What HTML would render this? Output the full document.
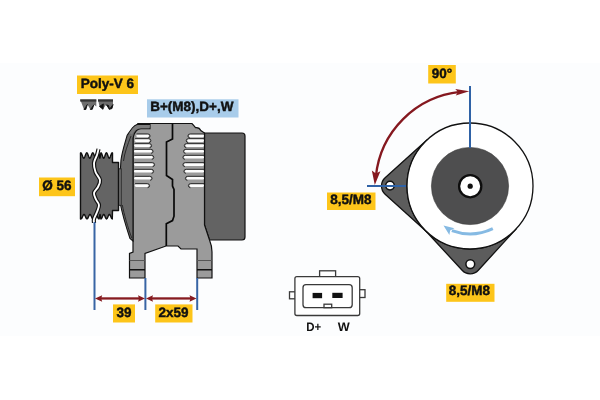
<!DOCTYPE html>
<html><head><meta charset="utf-8"><style>
html,body{margin:0;padding:0;background:#fff;}
body{width:600px;height:400px;overflow:hidden;position:relative;}
svg{position:absolute;left:0;top:0;will-change:transform;}
text{font-family:"Liberation Sans",sans-serif;font-weight:bold;text-rendering:geometricPrecision;}
</style></head><body>
<svg width="600" height="400" viewBox="0 0 600 400">
<rect width="600" height="400" fill="#fff"/>
<rect x="0" y="63" width="600" height="273" fill="#FCFDFE"/>

<!-- labels -->
<rect x="77" y="75.5" width="61" height="18.5" fill="#FDC51A"/>
<text x="80.8" y="87.6" font-size="13.5" fill="#111" stroke="#111" stroke-width="0.45">Poly-V 6</text>
<rect x="147" y="99.3" width="91.5" height="18.2" fill="#A8CCEA"/>
<text x="150.2" y="111.4" font-size="13.5" fill="#111" stroke="#111" stroke-width="0.45">B+(M8),D+,W</text>
<rect x="39" y="177.5" width="36" height="18.7" fill="#FDC51A"/>
<text x="42.3" y="189.5" font-size="13.5" fill="#111" stroke="#111" stroke-width="0.45">Ø 56</text>
<rect x="113" y="304.4" width="22" height="18.1" fill="#FDC51A"/>
<text x="116.6" y="316.9" font-size="13.5" fill="#111" stroke="#111" stroke-width="0.45">39</text>
<rect x="155.2" y="304.4" width="37.3" height="18.1" fill="#FDC51A"/>
<text x="158.5" y="316.9" font-size="13.5" fill="#111" stroke="#111" stroke-width="0.45">2x59</text>
<rect x="428.2" y="65" width="27.6" height="18.5" fill="#FDC51A"/>
<text x="431.8" y="77.5" font-size="13.5" fill="#111" stroke="#111" stroke-width="0.45">90°</text>
<rect x="327" y="192.5" width="48.5" height="17.5" fill="#FDC51A"/>
<text x="330.2" y="204.2" font-size="13.5" fill="#111" stroke="#111" stroke-width="0.45">8,5/M8</text>
<rect x="446.2" y="283.8" width="48.3" height="18" fill="#FDC51A"/>
<text x="448.8" y="295.3" font-size="13.5" fill="#111" stroke="#111" stroke-width="0.45">8,5/M8</text>

<!-- belt icon -->
<g>
<path d="M80.2,99.4 H96.3 V106.5 L93.7,104.2 L90.4,109.5 L87.2,103.9 L84,109.5 Z" fill="#6e6e6e"/>
<path d="M98,99.4 H113 V104.5 L109.4,109.3 L106.2,104.4 L103,109.3 L99.5,106.4 Z" fill="#6e6e6e"/>
<rect x="80.2" y="99.4" width="16.1" height="2.2" fill="#333"/>
<rect x="98" y="99.4" width="15" height="2.2" fill="#333"/>
<path d="M87.4,104.3 L84,109.5 L85.8,109.5 Z M93.9,104.6 L90.4,109.5 L92.3,109.3 Z M103.3,103.9 L103,109.3 L99.5,106.4 Z M106.4,104.8 L109.4,109.3 L108.6,105.5 Z M113,104.5 L109.4,109.3 L112,108.5 Z" fill="#111" stroke="#111" stroke-width="0.9" stroke-linejoin="round"/>
</g>
<!-- rear cover -->
<path d="M204.5,133 H242 Q245,133 245,136 V237 Q245,240 242,240 H209.5 L204.5,225 Z" fill="#636363" stroke="#111" stroke-width="1.2"/>

<!-- body -->
<path d="M138,123.5 H192 L194.5,126.3 L195.5,127.6 Q199.5,127.2 200.8,130.6 L204.5,133 V225 L209.5,240 Q212,246 212,252 V278 H197 V249 H181 L178,246 H166 L145,253.5 V278 H129.5 V253.5 L133,252 V140 Q133,128 138,123.5 Z" fill="#9b9b9b" stroke="#111" stroke-width="1.2"/>
<!-- foot lines -->
<path d="M129.5,260.5 H145 M197,260.5 H212" stroke="#555" stroke-width="1.2"/>
<path d="M129.5,269.7 H145 M197,269.7 H212" stroke="#111" stroke-width="1.5"/>
<rect x="136.30" y="134.50" width="12.70" height="2.7" rx="1.35" fill="#fdfdfd"/><path d="M136.60,133.90 H147.70 Q150.10,133.90 150.10,136.00 Q150.10,137.70 148.10,138.00" fill="none" stroke="#2a2a2a" stroke-width="0.95"/><rect x="189.00" y="134.50" width="15.00" height="2.7" rx="1.35" fill="#fdfdfd"/><path d="M204.00,133.90 H190.30 Q187.90,133.90 187.90,136.00 Q187.90,137.70 189.90,138.00" fill="none" stroke="#2a2a2a" stroke-width="0.95"/><rect x="134.80" y="139.20" width="15.00" height="2.7" rx="1.35" fill="#fdfdfd"/><path d="M135.10,138.60 H148.50 Q150.90,138.60 150.90,140.70 Q150.90,142.40 148.90,142.70" fill="none" stroke="#2a2a2a" stroke-width="0.95"/><rect x="187.30" y="139.20" width="16.70" height="2.7" rx="1.35" fill="#fdfdfd"/><path d="M204.00,138.60 H188.60 Q186.20,138.60 186.20,140.70 Q186.20,142.40 188.20,142.70" fill="none" stroke="#2a2a2a" stroke-width="0.95"/><rect x="134.20" y="144.20" width="16.30" height="2.7" rx="1.35" fill="#fdfdfd"/><path d="M134.50,143.60 H149.20 Q151.60,143.60 151.60,145.70 Q151.60,147.40 149.60,147.70" fill="none" stroke="#2a2a2a" stroke-width="0.95"/><rect x="185.40" y="144.20" width="18.60" height="2.7" rx="1.35" fill="#fdfdfd"/><path d="M204.00,143.60 H186.70 Q184.30,143.60 184.30,145.70 Q184.30,147.40 186.30,147.70" fill="none" stroke="#2a2a2a" stroke-width="0.95"/><rect x="134.00" y="149.90" width="18.00" height="2.7" rx="1.35" fill="#fdfdfd"/><path d="M134.30,149.30 H150.70 Q153.10,149.30 153.10,151.40 Q153.10,153.10 151.10,153.40" fill="none" stroke="#2a2a2a" stroke-width="0.95"/><rect x="184.60" y="149.90" width="19.40" height="2.7" rx="1.35" fill="#fdfdfd"/><path d="M204.00,149.30 H185.90 Q183.50,149.30 183.50,151.40 Q183.50,153.10 185.50,153.40" fill="none" stroke="#2a2a2a" stroke-width="0.95"/><rect x="134.00" y="155.90" width="18.70" height="2.7" rx="1.35" fill="#fdfdfd"/><path d="M134.30,155.30 H151.40 Q153.80,155.30 153.80,157.40 Q153.80,159.10 151.80,159.40" fill="none" stroke="#2a2a2a" stroke-width="0.95"/><rect x="184.00" y="155.90" width="20.00" height="2.7" rx="1.35" fill="#fdfdfd"/><path d="M204.00,155.30 H185.30 Q182.90,155.30 182.90,157.40 Q182.90,159.10 184.90,159.40" fill="none" stroke="#2a2a2a" stroke-width="0.95"/><rect x="134.00" y="163.20" width="19.50" height="2.7" rx="1.35" fill="#fdfdfd"/><path d="M134.30,162.60 H152.20 Q154.60,162.60 154.60,164.70 Q154.60,166.40 152.60,166.70" fill="none" stroke="#2a2a2a" stroke-width="0.95"/><rect x="184.00" y="163.20" width="20.00" height="2.7" rx="1.35" fill="#fdfdfd"/><path d="M204.00,162.60 H185.30 Q182.90,162.60 182.90,164.70 Q182.90,166.40 184.90,166.70" fill="none" stroke="#2a2a2a" stroke-width="0.95"/><rect x="134.00" y="169.90" width="18.50" height="2.7" rx="1.35" fill="#fdfdfd"/><path d="M134.30,169.30 H151.20 Q153.60,169.30 153.60,171.40 Q153.60,173.10 151.60,173.40" fill="none" stroke="#2a2a2a" stroke-width="0.95"/><rect x="185.00" y="169.90" width="19.00" height="2.7" rx="1.35" fill="#fdfdfd"/><path d="M204.00,169.30 H186.30 Q183.90,169.30 183.90,171.40 Q183.90,173.10 185.90,173.40" fill="none" stroke="#2a2a2a" stroke-width="0.95"/><rect x="134.20" y="176.90" width="16.80" height="2.7" rx="1.35" fill="#fdfdfd"/><path d="M134.50,176.30 H149.70 Q152.10,176.30 152.10,178.40 Q152.10,180.10 150.10,180.40" fill="none" stroke="#2a2a2a" stroke-width="0.95"/><rect x="186.50" y="176.90" width="17.50" height="2.7" rx="1.35" fill="#fdfdfd"/><path d="M204.00,176.30 H187.80 Q185.40,176.30 185.40,178.40 Q185.40,180.10 187.40,180.40" fill="none" stroke="#2a2a2a" stroke-width="0.95"/><rect x="134.80" y="184.20" width="13.70" height="2.7" rx="1.35" fill="#fdfdfd"/><path d="M135.10,183.60 H147.20 Q149.60,183.60 149.60,185.70 Q149.60,187.40 147.60,187.70" fill="none" stroke="#2a2a2a" stroke-width="0.95"/><rect x="189.50" y="184.20" width="14.50" height="2.7" rx="1.35" fill="#fdfdfd"/><path d="M204.00,183.60 H190.80 Q188.40,183.60 188.40,185.70 Q188.40,187.40 190.40,187.70" fill="none" stroke="#2a2a2a" stroke-width="0.95"/>
<!-- center split -->
<path d="M172.5,123.5 V139 L166.5,142 V175.5 L172.5,179.5 V186 L174,189.5 V216.2 L172.5,220.6 L166.3,223.8 V246" fill="none" stroke="#080808" stroke-width="1.7"/>

<!-- front housing -->
<path d="M150,124.6 H137.5 Q135,124.8 132.5,127.8 L128.3,133.6 L127.2,135.2 C125,143 122,152 121,160 C120.2,170 119.8,190 120.2,203 C122,213 126.5,228 130,238.5 L133,241 V138 Q134,133 136.5,130.5 Q138.5,128.8 141,128.8 H150 Z" fill="#6a6a6a" stroke="#111" stroke-width="1.1"/>
<path d="M150,124.9 H137.8 Q135.3,125.2 133,128 L128.8,133.8 Q130.5,133 132,134.6 Q134.5,130.2 136.5,129.5 Q138.5,128.3 141,128.3 H149.6 Z" fill="#7c7c7c"/>
<path d="M131,136 C127.5,145 124.5,153 123.5,161 M122.3,205 C124,214 128,228 131.8,238" fill="none" stroke="#222" stroke-width="0.9"/>
<rect x="118.2" y="168.8" width="3" height="36.5" fill="#777" stroke="#222" stroke-width="0.9"/>
<!-- pulley -->
<path d="M80.5,219 L80.5,153 L80.80,152.80 L81.40,153.32 L82.00,154.67 L82.60,156.33 L83.20,157.68 L83.80,158.20 L84.40,157.68 L85.00,156.33 L85.60,154.67 L86.20,153.32 L86.80,152.80 L87.40,153.32 L88.00,154.67 L88.60,156.33 L89.20,157.68 L89.80,158.20 L90.40,157.68 L91.00,156.33 L91.60,154.67 L92.20,153.32 L92.80,152.80 L93.39,153.32 L93.98,154.67 L94.57,156.33 L95.16,157.68 L95.75,158.20 L96.34,157.68 L96.93,156.33 L97.52,154.67 L98.11,153.32 L98.70,152.80 L98.93,153.32 L99.16,154.67 L99.39,156.33 L99.62,157.68 L99.85,158.20 L100.08,157.68 L100.31,156.33 L100.54,154.67 L100.77,153.32 L101.00,152.80 L101.54,153.32 L102.08,154.67 L102.62,156.33 L103.16,157.68 L103.70,158.20 L104.24,157.68 L104.78,156.33 L105.32,154.67 L105.86,153.32 L106.40,152.80 L106.98,153.32 L107.56,154.67 L108.14,156.33 L108.72,157.68 L109.30,158.20 L109.88,157.68 L110.46,156.33 L111.04,154.67 L111.62,153.32 L112.20,152.80 L112.5,153 L112.5,162.5 L118.5,162.5 L118.5,210.5 L112.5,210.5 L112.3,219 L112.30,219.00 L111.72,218.56 L111.14,217.41 L110.56,215.99 L109.98,214.84 L109.40,214.40 L108.82,214.84 L108.24,215.99 L107.66,217.41 L107.08,218.56 L106.50,219.00 L105.95,218.56 L105.40,217.41 L104.85,215.99 L104.30,214.84 L103.75,214.40 L103.20,214.84 L102.65,215.99 L102.10,217.41 L101.55,218.56 L101.00,219.00 L100.80,218.56 L100.60,217.41 L100.40,215.99 L100.20,214.84 L100.00,214.40 L99.80,214.84 L99.60,215.99 L99.40,217.41 L99.20,218.56 L99.00,219.00 L98.40,218.56 L97.80,217.41 L97.20,215.99 L96.60,214.84 L96.00,214.40 L95.40,214.84 L94.80,215.99 L94.20,217.41 L93.60,218.56 L93.00,219.00 L92.40,218.56 L91.80,217.41 L91.20,215.99 L90.60,214.84 L90.00,214.40 L89.40,214.84 L88.80,215.99 L88.20,217.41 L87.60,218.56 L87.00,219.00 L86.40,218.56 L85.80,217.41 L85.20,215.99 L84.60,214.84 L84.00,214.40 L83.40,214.84 L82.80,215.99 L82.20,217.41 L81.60,218.56 L81.00,219.00 Z" fill="#646464" stroke="#111" stroke-width="1.4" stroke-linejoin="round"/>
<path d="M98.50,149.00 C98.25,150.00 97.75,152.67 97.00,155.00 C96.25,157.33 94.25,160.17 94.00,163.00 C93.75,165.83 94.50,169.17 95.50,172.00 C96.50,174.83 99.58,177.50 100.00,180.00 C100.42,182.50 99.00,184.83 98.00,187.00 C97.00,189.17 94.33,190.92 94.00,193.00 C93.67,195.08 95.17,197.50 96.00,199.50 C96.83,201.50 98.83,202.92 99.00,205.00 C99.17,207.08 97.83,209.67 97.00,212.00 C96.17,214.33 94.50,217.17 94.00,219.00 C93.50,220.83 94.00,222.33 94.00,223.00" fill="none" stroke="#111" stroke-width="4.2"/>
<path d="M98.50,149.00 C98.25,150.00 97.75,152.67 97.00,155.00 C96.25,157.33 94.25,160.17 94.00,163.00 C93.75,165.83 94.50,169.17 95.50,172.00 C96.50,174.83 99.58,177.50 100.00,180.00 C100.42,182.50 99.00,184.83 98.00,187.00 C97.00,189.17 94.33,190.92 94.00,193.00 C93.67,195.08 95.17,197.50 96.00,199.50 C96.83,201.50 98.83,202.92 99.00,205.00 C99.17,207.08 97.83,209.67 97.00,212.00 C96.17,214.33 94.50,217.17 94.00,219.00 C93.50,220.83 94.00,222.33 94.00,223.00" fill="none" stroke="#fff" stroke-width="1.9"/>

<!-- dimension lines -->
<g stroke="#3865A5" stroke-width="2">
<line x1="94.5" y1="222" x2="94.5" y2="310"/>
<line x1="145.4" y1="278" x2="145.4" y2="310"/>
<line x1="197.2" y1="278" x2="197.2" y2="310"/>
</g>
<g fill="#861B20">
<rect x="99" y="297.3" width="41" height="2.3"/>
<rect x="150" y="297.3" width="42" height="2.3"/>
<path d="M95,298.45 L102.2,295.2 L101.2,298.45 L102.2,301.7 Z"/>
<path d="M145,298.45 L138,295.2 L139,298.45 L138,301.7 Z"/>
<path d="M146,298.45 L153,295.2 L152,298.45 L153,301.7 Z"/>
<path d="M196.5,298.45 L189.5,295.2 L190.5,298.45 L189.5,301.7 Z"/>
</g>

<!-- front view -->

<path d="M427.73,139.29 L385.12,177.84 A11.00,11.00 0 0 0 385.12,194.16 L427.73,232.71 A63,63 0 0 1 427.73,139.29 Z" fill="#5c5c5c" stroke="#111" stroke-width="1.3"/>
<path d="M423.75,228.78 L462.12,270.27 A11.00,11.00 0 0 0 478.31,270.23 L516.47,228.54 A63,63 0 0 1 423.75,228.78 Z" fill="#5c5c5c" stroke="#111" stroke-width="1.3"/>
<circle cx="390" cy="185.6" r="4.3" fill="#fff" stroke="#111" stroke-width="1.5"/>
<circle cx="470.3" cy="264.1" r="4.4" fill="#fff" stroke="#111" stroke-width="1.5"/>
<circle cx="470" cy="186" r="63" fill="#fff" stroke="#111" stroke-width="1.3"/>
<circle cx="470" cy="186" r="38.6" fill="#4e4e4f" stroke="#3a3a3a" stroke-width="0.6"/>
<circle cx="470.2" cy="186.2" r="11.1" fill="#fff" stroke="#0d0d0d" stroke-width="2.3"/>
<circle cx="470.2" cy="186.2" r="2.6" fill="#111"/>
<line x1="470" y1="86" x2="470" y2="148" stroke="#2F62A6" stroke-width="2"/>
<line x1="367" y1="186" x2="406" y2="186" stroke="#2F62A6" stroke-width="2"/>

<path d="M460,91.90 A94.6,94.6 0 0 0 375.90,176" fill="none" stroke="#85181F" stroke-width="2.3"/>
<path d="M469.30,91.30 L455.76,95.46 L458.03,92.09 L455.31,89.07 Z" fill="#85181F"/><path d="M374.80,184.90 L371.84,170.56 L375.89,173.45 L380.40,171.37 Z" fill="#85181F"/>
<path d="M492.82,228.59 A53,53 0 0 1 451.87,230.55" fill="none" stroke="#86BAE3" stroke-width="3"/>
<path d="M443.50,225.40 L454.42,228.34 L450.14,230.38 L449.38,235.06 Z" fill="#86BAE3"/>
<g fill="none" stroke="#3a3a3a" stroke-width="1.3">
<rect x="319.6" y="270.8" width="16" height="6" fill="#fff"/>
<rect x="289.5" y="291.8" width="6" height="7" fill="#fff"/>
<rect x="359" y="289.7" width="6" height="7.8" fill="#fff"/>
<rect x="294.9" y="276.6" width="64.8" height="38.9" rx="2" fill="#fff"/>
<rect x="303" y="284.7" width="49.2" height="23" rx="3"/>
<rect x="324" y="304.2" width="7.7" height="3.5"/>
</g>
<rect x="312.6" y="292.9" width="9.5" height="5.3" fill="#111"/>
<rect x="332.3" y="292.8" width="10.3" height="5.2" fill="#111"/>
<text x="306.3" y="331" font-size="12.3" textLength="15" lengthAdjust="spacingAndGlyphs" style="font-weight:bold" fill="#111">D+</text>
<text x="337.8" y="331" font-size="12.3" textLength="12" lengthAdjust="spacingAndGlyphs" style="font-weight:bold" fill="#111">W</text>

</svg>
</body></html>
